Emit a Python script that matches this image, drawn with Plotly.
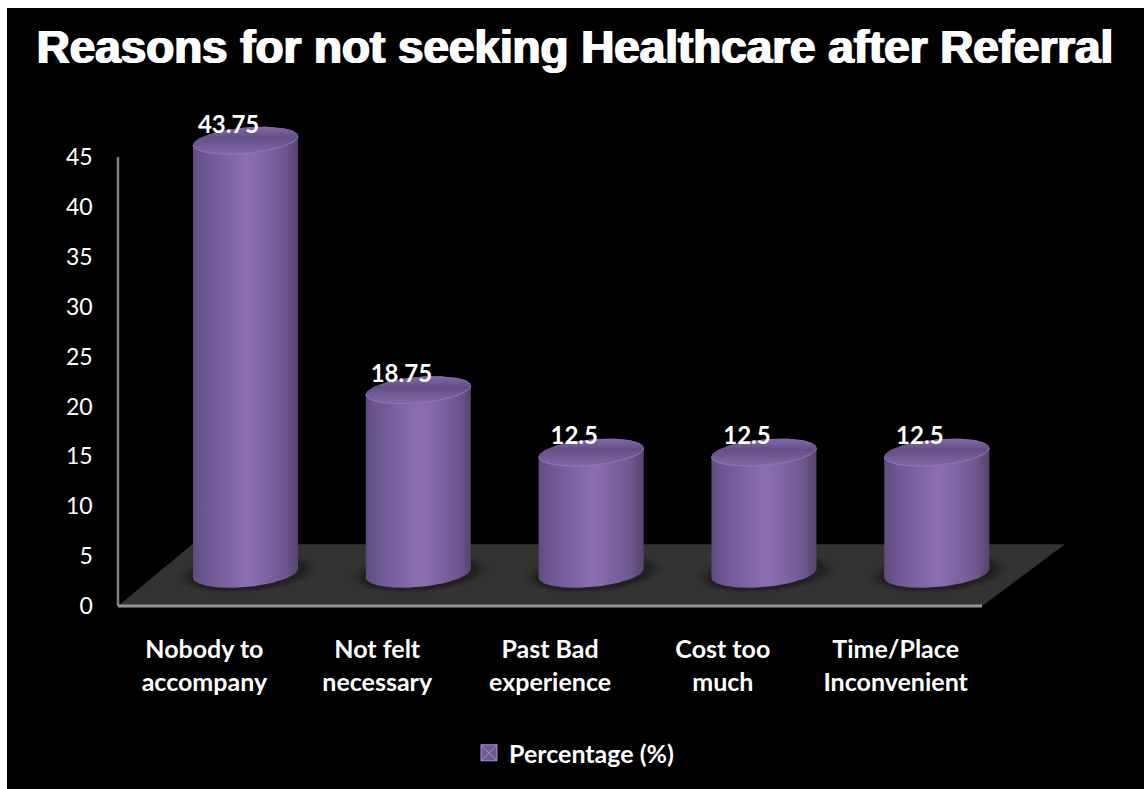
import numpy as np
import plotly.graph_objects as go

# Chart content
title_text = "Reasons for not seeking Healthcare after Referral"
categories = ["Nobody to<br>accompany", "Not felt<br>necessary", "Past Bad<br>experience",
              "Cost too<br>much", "Time/Place<br>Inconvenient"]
percentages = [43.75, 18.75, 12.5, 12.5, 12.5]
y_ticks = [0, 5, 10, 15, 20, 25, 30, 35, 40, 45]
series_name = "Percentage (%)"

# Canvas size and axis placement, in pixels (the plot area starts a little
# outside the drawn axis lines so they keep their full width)
W, H = 1144, 789
X_LEFT, X_END = 100.72, 1070
Y_BOTTOM, Y_TOP = 611, 100

# Pseudo-3D geometry, in axis units
DEPTH_X = 0.238      # cylinders sit behind the tick position
HALF_W = 0.304       # cylinder half width
BASE_Y = 3.3         # centre height of the cylinder foot on the floor
TOP_LIFT = 2.9       # a column's top centre sits this far above its value
CAP_B = 1.3          # vertical radius of the ellipses
TILT = 0.45          # the ellipses lean upward on the right
FLOOR_BACK_Y = 6.2
FLOOR_BACK_LEFT = -0.07
FLOOR_BACK_RIGHT = 4.98
FLOOR_FRONT_RIGHT = 4.5

t = np.linspace(0, 2 * np.pi, 121)


def ellipse(cx, cy, a, b, tilt, tt):
    return cx + a * np.cos(tt), cy + b * np.sin(tt) + tilt * np.cos(tt)


SKIP = dict(hoverinfo="skip", showlegend=False)
fig = go.Figure()

# Floor
fig.add_trace(go.Scatter(
    x=[-0.5, FLOOR_BACK_LEFT, FLOOR_BACK_RIGHT, FLOOR_FRONT_RIGHT, -0.5],
    y=[0, FLOOR_BACK_Y, FLOOR_BACK_Y, 0, 0],
    mode="lines", line=dict(width=0), fill="toself", fillcolor="#333333", **SKIP))

# Axis lines
fig.add_trace(go.Scatter(x=[-0.5, -0.5], y=[0, 45], mode="lines",
                         line=dict(color="#808080", width=2.5), **SKIP))
fig.add_trace(go.Scatter(x=[-0.5, 4.5], y=[0, 0], mode="lines",
                         line=dict(color="#949494", width=3), **SKIP))

body_scale = [[0, "#5f4b80"], [0.12, "#6d5793"], [0.5, "#8b6eb1"],
              [0.62, "#8569a9"], [0.88, "#6d578f"], [1, "#564468"]]
cap_scale = [[0, "#8369a8"], [0.3, "#745c97"], [0.6, "#634f85"],
             [0.85, "#775e9e"], [1, "#8468ad"]]

for i, v in enumerate(percentages):
    cx = i + DEPTH_X
    top = v + TOP_LIFT

    # Soft contact shadow on the floor
    for grow, alpha in [(1.32, 0.07), (1.22, 0.12), (1.12, 0.18)]:
        sx, sy = ellipse(cx + 0.01, BASE_Y, HALF_W * grow, CAP_B * grow * 1.15, TILT, t)
        fig.add_trace(go.Scatter(x=sx, y=sy, mode="lines", line=dict(width=0), fill="toself",
                                 fillcolor=f"rgba(0,0,0,{alpha})", **SKIP))

    # Column side: lower arc of the foot, then upper arc of the top
    lo = np.linspace(np.pi, 2 * np.pi, 61)
    hi = np.linspace(0, np.pi, 61)
    bx, by = ellipse(cx, BASE_Y, HALF_W, CAP_B + 0.1, TILT, lo)
    ux, uy = ellipse(cx, top, HALF_W, CAP_B, TILT, hi)
    fig.add_trace(go.Scatter(
        x=np.concatenate([bx, ux]), y=np.concatenate([by, uy]),
        mode="lines", line=dict(width=0), fill="toself",
        fillgradient=dict(type="horizontal", colorscale=body_scale), **SKIP))

    # Top cap with a lit rim along its front edge
    cx_pts, cy_pts = ellipse(cx, top, HALF_W, CAP_B, TILT, t)
    fig.add_trace(go.Scatter(
        x=cx_pts, y=cy_pts, mode="lines", line=dict(width=0), fill="toself",
        fillgradient=dict(type="vertical", colorscale=cap_scale), **SKIP))
    rx, ry = ellipse(cx, top, HALF_W, CAP_B, TILT, lo)
    fig.add_trace(go.Scatter(x=rx, y=ry, mode="lines",
                             line=dict(color="#8f75b9", width=1), **SKIP))

# Value labels
fig.add_trace(go.Scatter(
    x=[i + 0.14 for i in range(len(percentages))],
    y=[v + 4.3 for v in percentages],
    text=[f"{v:g}" for v in percentages],
    mode="text", textposition="middle center",
    textfont=dict(family="Lato", size=24, color="white", weight="bold"), **SKIP))

# Legend key
fig.add_trace(go.Scatter(
    x=[None], y=[None], mode="markers", name=series_name, showlegend=True, hoverinfo="skip",
    marker=dict(symbol="square-x", size=16, color="#6f5896",
                line=dict(color="#a792c8", width=1))))

fig.update_layout(
    width=W, height=H,
    margin=dict(l=0, r=0, t=0, b=0, autoexpand=False),
    paper_bgcolor="white",
    plot_bgcolor="rgba(0,0,0,0)",
    shapes=[dict(type="rect", xref="paper", yref="paper", x0=7 / W, x1=1, y0=0, y1=(H - 8) / H,
                 fillcolor="black", line=dict(width=0), layer="below")],
    title=dict(text=title_text, x=575 / W, xanchor="center", y=(H - 47) / H, yanchor="middle",
               font=dict(family="Liberation Sans", size=45.8, color="white", weight="bold",
                         shadow="1px 0 0 white, -1px 0 0 white")),
    xaxis=dict(
        domain=[X_LEFT / W, X_END / W],
        range=[-0.6, 5.009],
        tickmode="array",
        tickvals=list(range(len(categories))),
        ticktext=categories,
        tickangle=0,
        ticks="",
        showgrid=False, zeroline=False, showline=False,
        ticklabelstandoff=21,
        tickfont=dict(family="Lato", size=25, color="white", weight="bold"),
    ),
    yaxis=dict(
        domain=[(H - Y_BOTTOM) / H, (H - Y_TOP) / H],
        range=[-0.5, 50.71],
        tickmode="array",
        tickvals=y_ticks,
        ticks="",
        showgrid=False, zeroline=False, showline=False,
        ticklabelstandoff=7,
        tickfont=dict(family="Lato", size=23, color="white"),
    ),
    legend=dict(x=469 / W, xanchor="left", y=(H - 753) / H, yanchor="middle",
                bgcolor="rgba(0,0,0,0)",
                font=dict(family="Lato", size=25, color="white", weight="bold")),
)

fig.write_html("out.html", config=dict(displayModeBar=False))
